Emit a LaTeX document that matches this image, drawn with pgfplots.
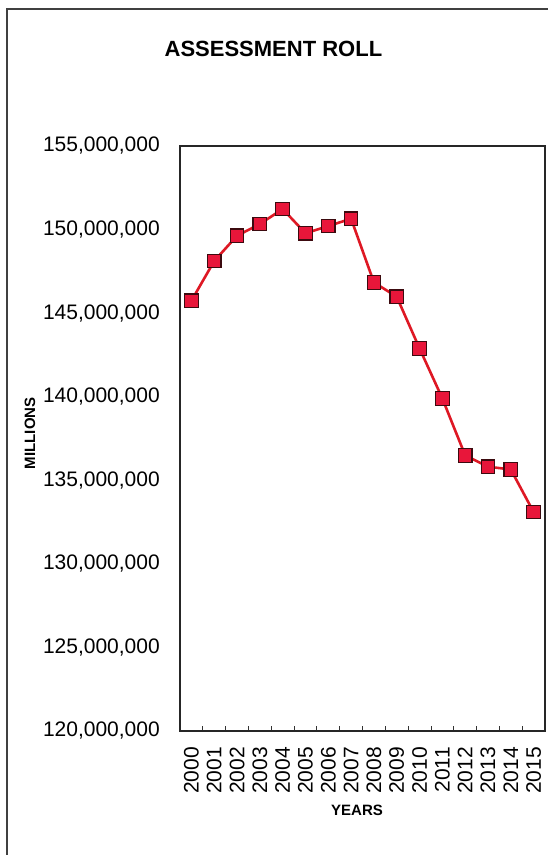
\documentclass[border=0pt]{standalone}
\usepackage{fontspec}
\setmainfont{Liberation Sans}
\usepackage{pgfplots}
\pgfplotsset{compat=1.18}

\definecolor{linered}{RGB}{222,24,36}
\definecolor{markfill}{RGB}{232,22,58}
\definecolor{markedge}{RGB}{60,10,15}

\begin{document}
\begin{tikzpicture}[x=1pt,y=1pt]
\useasboundingbox (0,0) rectangle (548,855);
% page frame (left and top edges of the scanned sheet)
\draw[line width=1.2pt, black!75] (7,0) -- (7,846) -- (548,846);

\begin{axis}[
    at={(180pt,124pt)}, anchor=south west,
    width=365pt, height=585pt, scale only axis,
    xmin=-0.5, xmax=15.5,
    ymin=120000000, ymax=155000000,
    xtick={0,...,15},
    xticklabels={2000,2001,2002,2003,2004,2005,2006,2007,2008,2009,2010,2011,2012,2013,2014,2015},
    minor xtick={0.5,1.5,...,14.5},
    ytick={120000000,125000000,...,155000000},
    scaled y ticks=false,
    /pgf/number format/fixed,
    /pgf/number format/precision=0,
    /pgf/number format/1000 sep={,},
    /pgf/number format/assume math mode=true,
    xtick pos=bottom, ytick pos=left,
    tick align=inside,
    major tick length=0pt,
    minor tick length=5pt,
    axis line style={line width=1.8pt, black!85},
    minor tick style={line width=0.8pt, black!80},
    ticklabel style={font=\fontsize{21}{24}\selectfont},
    xticklabel style={rotate=90, anchor=east, inner sep=0pt, font=\fontsize{21}{24}\selectfont},
    xticklabel shift=16pt,
    yticklabel style={anchor=east, inner sep=0pt},
    yticklabel shift=20pt,
    title={ASSESSMENT ROLL},
    title style={at={(axis description cs:0.256,1.155)}, anchor=center,
        font=\fontsize{22}{26}\selectfont\bfseries},
    xlabel={YEARS},
    xlabel style={at={(axis description cs:0.485,-0.135)}, anchor=center,
        font=\fontsize{15}{18}\selectfont\bfseries},
    ylabel={MILLIONS},
    ylabel style={at={(axis description cs:-0.411,0.509)}, anchor=center,
        font=\fontsize{15}{18}\selectfont\bfseries},
    clip=false,
]
\addplot[color=linered, line width=2.6pt, mark=square*,
    mark size=6.8pt,
    mark options={fill=markfill, draw=markedge, line width=1.2pt}]
    coordinates {
    (0, 145740000) (1, 148120000) (2, 149630000) (3, 150330000)
    (4, 151230000) (5, 149780000) (6, 150210000) (7, 150650000)
    (8, 146840000) (9, 145980000) (10, 142890000) (11, 139900000)
    (12, 136490000) (13, 135810000) (14, 135650000) (15, 133100000)
    };
\end{axis}
\end{tikzpicture}
\end{document}
